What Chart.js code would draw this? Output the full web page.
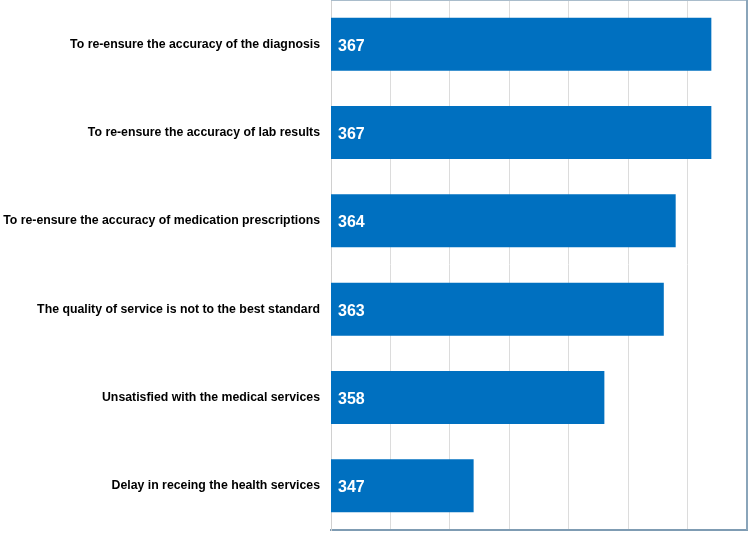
<!DOCTYPE html>
<html>
<head>
<meta charset="utf-8">
<script src="https://cdn.jsdelivr.net/npm/chart.js@4/dist/chart.umd.min.js"></script>
<style>
  html, body { margin: 0; padding: 0; background: #fff; overflow: hidden; }
  canvas { display: block; }
</style>
</head>
<body>
<canvas id="c" width="750" height="533"></canvas>
<script>
const categories = [
  'To re-ensure the accuracy of the diagnosis',
  'To re-ensure the accuracy of lab results',
  'To re-ensure the accuracy of medication prescriptions',
  'The quality of service is not to the best standard',
  'Unsatisfied with the medical services',
  'Delay in receing the health services',
]
const counts = [367, 367, 364, 363, 358, 347]

const axisMin = 335
const axisMax = 370
const axisStep = 5

// ── Value labels inside the bars + frame round the plot area ────────────────
const barLabelsPlugin = {
  id: 'barLabels',
  afterDatasetsDraw(chart) {
    const ctx = chart.ctx
    const a = chart.chartArea
    const meta = chart.getDatasetMeta(0)
    ctx.save()
    ctx.font = 'bold 16px "Liberation Sans", Arial, sans-serif'
    ctx.fillStyle = '#ffffff'
    ctx.textAlign = 'left'
    ctx.textBaseline = 'middle'
    meta.data.forEach((el, i) => {
      const { y } = el.getProps(['y'], true)
      // bars start left of the axis (value 0 is off-scale), so anchor to the plot edge
      ctx.fillText(String(counts[i]), a.left + 7, y + 2)
    })
    ctx.restore()

    // right + top edge of the frame
    ctx.save()
    ctx.strokeStyle = '#a9bccb'
    ctx.lineWidth = 1
    ctx.beginPath()
    ctx.moveTo(a.left, a.top + 0.5)
    ctx.lineTo(a.right, a.top + 0.5)
    ctx.stroke()
    ctx.strokeStyle = '#8aa5ba'
    ctx.lineWidth = 2
    ctx.beginPath()
    ctx.moveTo(a.right, a.top)
    ctx.lineTo(a.right, a.bottom)
    ctx.stroke()
    ctx.restore()
  },
}

new Chart(document.getElementById('c'), {
  type: 'bar',
  plugins: [barLabelsPlugin],
  data: {
    labels: categories,
    datasets: [{
      data: counts,
      backgroundColor: '#0070c0',
      borderWidth: 0,
      categoryPercentage: 0.6,
      barPercentage: 1,
    }],
  },
  options: {
    indexAxis: 'y',
    responsive: false,
    animation: false,
    layout: { padding: { top: 0, right: 3, bottom: 1, left: 0 } },
    plugins: {
      legend: { display: false },
      tooltip: { enabled: false },
    },
    scales: {
      x: {
        min: axisMin,
        max: axisMax,
        afterFit: s => { s.height = 2 },
        ticks: { display: false, stepSize: axisStep },
        grid: { color: '#dcdcdc', drawTicks: false },
        border: { color: '#7f9cb3', width: 2 },
      },
      y: {
        afterFit: s => { s.width = 331; s.paddingTop = 0; s.paddingBottom = 0 },
        ticks: {
          color: '#000000',
          padding: 11,
          font: { family: '"Liberation Sans", Arial, sans-serif', size: 12.3, weight: 'bold' },
        },
        grid: { display: false, drawTicks: false },
        border: { color: '#d0d0d0', width: 1 },
      },
    },
  },
})
</script>
</body>
</html>
